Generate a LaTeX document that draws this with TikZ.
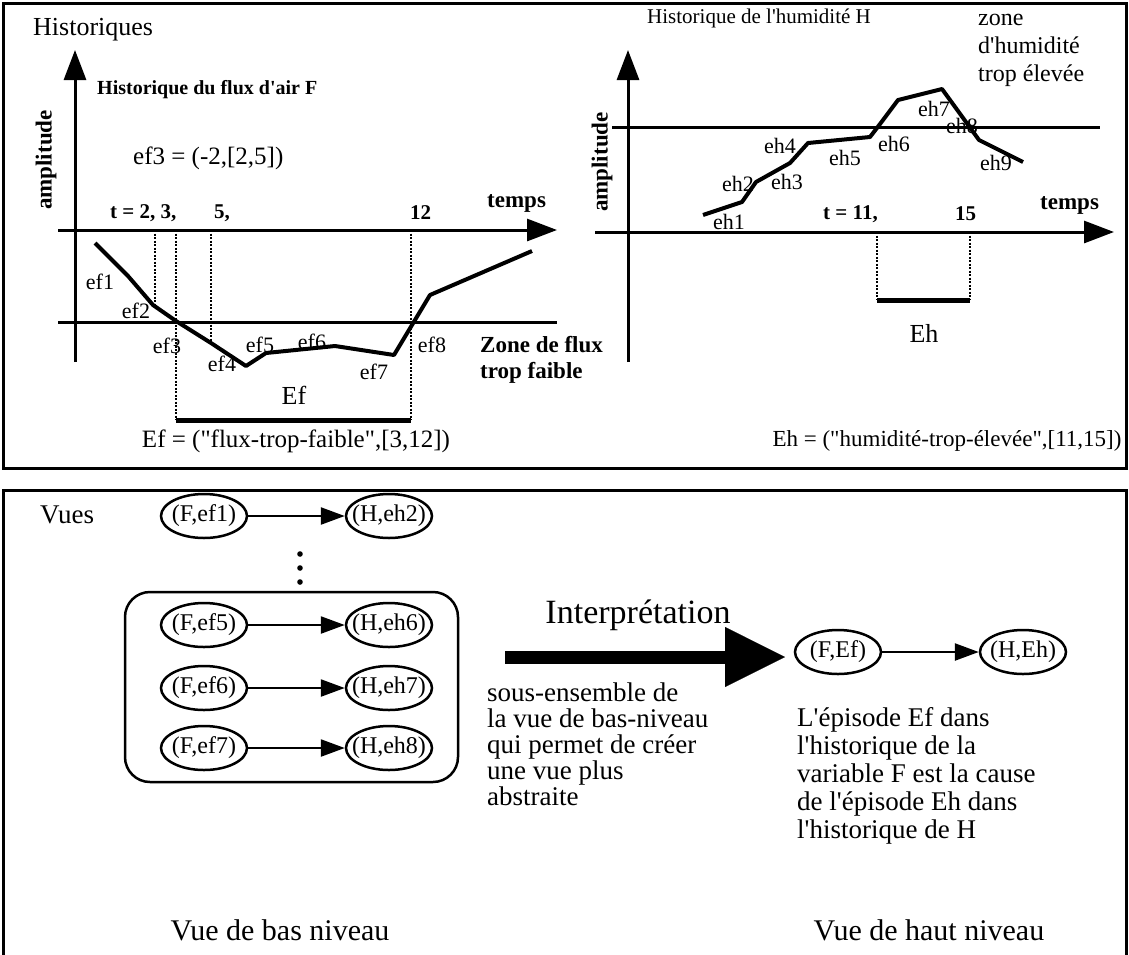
\documentclass[tikz,border=0pt]{standalone}
\usepackage{fontspec}
\setmainfont{Liberation Serif}[Ligatures=TeXOff]
\usetikzlibrary{arrows.meta,shapes.geometric}

\begin{document}
\begin{tikzpicture}[x=1pt,y=-1pt,
    cadre/.style={line width=3pt},
    axe/.style={line width=3pt,-{Triangle[length=30pt,width=22pt]}},
    seuil/.style={line width=3pt},
    courbe/.style={line width=4pt,line join=round},
    pointille/.style={line width=2pt,dash pattern=on 2pt off 1.5pt},
    episode/.style={line width=5pt},
    txt/.style={inner sep=0pt,font=\fontsize{#1}{#1}\selectfont},
    gras/.style={inner sep=0pt,font=\bfseries\fontsize{#1}{#1}\selectfont},
    ov/.style={ellipse,draw,line width=2.5pt,minimum width=86pt,minimum height=44pt,
        inner xsep=-9pt,inner ysep=0pt,font=\fontsize{24}{24}\selectfont},
    lien/.style={line width=2.5pt,-{Triangle[length=24pt,width=17pt]}}]
    \useasboundingbox (0,0) rectangle (1129,954);

    % les deux cadres
    \draw[cadre] (3,3) rectangle (1126,468);
    \draw[cadre] (3,960) -- (3,490) -- (1126,490) -- (1126,960);

    % historique du flux F
    \node[txt=26, anchor=west] (hist) at (33,30) {Historiques};
    \coordinate (fO) at (75,362);
    \coordinate (fY) at (75,50);
    \coordinate (fT0) at (58,230);
    \coordinate (fT1) at (557,230);
    \draw[axe] (fO) -- (fY);
    \draw[axe] (fT0) -- (fT1);
    \draw[seuil] (58,322) -- (557,322);
    \node[gras=23, rotate=90] (fAmp) at (46,160) {amplitude};
    \node[gras=20, anchor=west] (fTitre) at (97,90) {Historique du flux d'air F};
    \node[txt=25, anchor=west] (ef3def) at (133,158) {ef3 = (-2,[2,5])};
    \node[gras=23, anchor=west] (fTemps) at (487,203) {temps};
    \node[gras=21, anchor=west] (ft) at (110,213) {t = 2, 3,};
    \node[gras=21, anchor=west] (ft5) at (214,213) {5,};
    \node[gras=21, anchor=west] (ft12) at (410,213) {12};
    \node[gras=23, anchor=west, align=left] (zf) at (480,360) {Zone de flux\\[3pt]trop faible};

    \draw[pointille] (155,230) -- (155,305);
    \draw[pointille] (176,230) -- (176,420);
    \draw[pointille] (211,230) -- (211,343);
    \draw[pointille] (411,230) -- (411,420);
    \draw[courbe] (95,243) -- (128,276) -- (153,305) -- (176,321) -- (211,343)
        -- (246,366) -- (266,353) -- (335,346) -- (394,355) -- (430,295) -- (532,251);

    \node[txt=22] (ef1) at (100,282) {ef1};
    \node[txt=22] (ef2) at (136,311) {ef2};
    \node[txt=22] (ef3) at (167,346) {ef3};
    \node[txt=22] (ef4) at (222,364) {ef4};
    \node[txt=22] (ef5) at (260,345) {ef5};
    \node[txt=22] (ef6) at (312,342) {ef6};
    \node[txt=22] (ef7) at (374,372) {ef7};
    \node[txt=22] (ef8) at (432,345) {ef8};

    \draw[episode] (176,420) -- (411,420);
    \node[txt=26] (Ef) at (294,395) {Ef};
    \node[txt=25] (EfDef) at (296,441) {Ef = ("flux-trop-faible",[3,12])};

    % historique de l'humidite H
    \coordinate (hO) at (628,362);
    \coordinate (hY) at (628,50);
    \coordinate (hT0) at (595,232);
    \coordinate (hT1) at (1114,232);
    \draw[axe] (hO) -- (hY);
    \draw[axe] (hT0) -- (hT1);
    \draw[seuil] (612,127) -- (1100,127);
    \node[gras=23, rotate=90] (hAmp) at (602,162) {amplitude};
    \node[txt=21, anchor=west] (hTitre) at (647,18) {Historique de l'humidité H};
    \node[anchor=north west, align=left, inner sep=0pt, font=\fontsize{24}{28}\selectfont]
        (zh) at (978,14) {zone\\d'humidité\\trop élevée};
    \node[gras=23, anchor=west] (hTemps) at (1040,205) {temps};
    \node[gras=21, anchor=west] (ht) at (823,214) {t = 11,};
    \node[gras=21, anchor=west] (ht15) at (955,214) {15};

    \draw[pointille] (877,232) -- (877,300);
    \draw[pointille] (970,232) -- (970,300);
    \draw[courbe] (703,215) -- (742,202) -- (756,182) -- (790,163) -- (808,143)
        -- (870,137) -- (880,124) -- (898,100) -- (942,89) -- (958,111) -- (979,140) -- (1023,162);

    \node[txt=22] (eh1) at (729,222) {eh1};
    \node[txt=22] (eh2) at (738,184) {eh2};
    \node[txt=22] (eh3) at (787,182) {eh3};
    \node[txt=22] (eh4) at (780,146) {eh4};
    \node[txt=22] (eh5) at (845,158) {eh5};
    \node[txt=22] (eh6) at (894,144) {eh6};
    \node[txt=22] (eh7) at (934,109) {eh7};
    \node[txt=22] (eh8) at (962,126) {eh8};
    \node[txt=22] (eh9) at (996,163) {eh9};

    \draw[episode] (877,300) -- (970,300);
    \node[txt=26] (Eh) at (924,333) {Eh};
    \node[txt=23] (EhDef) at (947,441) {Eh = ("humidité-trop-élevée",[11,15])};

    % vues
    \node[txt=27, anchor=west] (vues) at (40,515) {Vues};
    \node[ov] (Fef1) at (204,516) {(F,ef1)};
    \node[ov] (Heh2) at (389,516) {(H,eh2)};
    \draw[lien] (Fef1) -- (Heh2);
    \foreach \y in {554,568,582} \fill (300,\y) circle (2.8pt);

    \draw[line width=2.5pt, rounded corners=25pt] (125,592) rectangle (458,782);
    \node[ov] (Fef5) at (204,625) {(F,ef5)};
    \node[ov] (Heh6) at (389,625) {(H,eh6)};
    \node[ov] (Fef6) at (204,688) {(F,ef6)};
    \node[ov] (Heh7) at (389,688) {(H,eh7)};
    \node[ov] (Fef7) at (204,748) {(F,ef7)};
    \node[ov] (Heh8) at (389,748) {(H,eh8)};
    \draw[lien] (Fef5) -- (Heh6);
    \draw[lien] (Fef6) -- (Heh7);
    \draw[lien] (Fef7) -- (Heh8);

    \node[txt=34] (interp) at (638,615) {Interprétation};
    \coordinate (iA) at (505,657);
    \coordinate (iB) at (785,657);
    \draw[line width=13pt, -{Triangle[length=60pt,width=60pt,line width=0.1pt]}] (iA) -- (iB);
    \node[anchor=north west, align=left, inner sep=0pt, font=\fontsize{27}{26}\selectfont]
        (sousens) at (487,683) {sous-ensemble de\\la vue de bas-niveau\\qui permet de créer\\une vue plus\\abstraite};

    \node[ov] (FEf) at (838,652) {(F,Ef)};
    \node[ov] (HEh) at (1023,652) {(H,Eh)};
    \draw[lien] (FEf) -- (HEh);
    \node[anchor=north west, align=left, inner sep=0pt, font=\fontsize{27}{28}\selectfont]
        (episode) at (797,707) {L'épisode Ef dans\\l'historique de la\\variable F est la cause\\de l'épisode Eh dans\\l'historique de H};

    \node[txt=30] (vbas) at (280,930) {Vue de bas niveau};
    \node[txt=30] (vhaut) at (929,930) {Vue de haut niveau};
\end{tikzpicture}
\end{document}
